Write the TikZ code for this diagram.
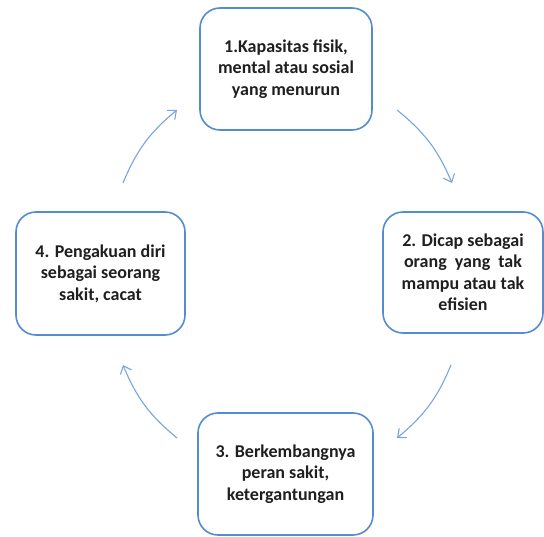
\documentclass[tikz,border=0pt]{standalone}
\usepackage{fontspec}
\setmainfont{Carlito}
\usetikzlibrary{arrows.meta,positioning}
\definecolor{boxblue}{RGB}{84,140,210}
\definecolor{arrowblue}{RGB}{120,165,222}
\tikzset{
  stagebox/.style={draw=boxblue, line width=1.6pt, rounded corners=20pt, fill=white,
    align=center, font=\fontsize{18}{21.5}\selectfont\bfseries, text=black!88, inner sep=0pt},
  cyclearrow/.style={draw=arrowblue, line width=1.1pt, -{Straight Barb[length=7pt,width=12pt,line width=1.1pt]}}
}
\begin{document}
\begin{tikzpicture}[x=1pt,y=-1pt]
\useasboundingbox (0,0) rectangle (544,537);
\node[stagebox, minimum width=172pt, minimum height=122pt] (b1) at (286,69)
  {1.Kapasitas fisik,\\mental atau sosial\\yang menurun};
\node[stagebox, minimum width=160pt, minimum height=121pt] (b2) at (463,272.5)
  {2. Dicap sebagai\\orang\ \ yang\ \ tak\\mampu atau tak\\efisien};
\node[stagebox, minimum width=175pt, minimum height=122pt] (b3) at (285.5,474)
  {3. Berkembangnya\\peran sakit,\\ketergantungan};
\node[stagebox, minimum width=169pt, minimum height=123pt] (b4) at (100.5,273.5)
  {4. Pengakuan diri\\sebagai seorang\\sakit, cacat};
\coordinate (a1s) at (397,110);
\coordinate (a1e) at (452,183);
\coordinate (a2s) at (451,365);
\coordinate (a2e) at (397,438);
\coordinate (a3s) at (177,438);
\coordinate (a3e) at (123,365);
\coordinate (a4s) at (123,183);
\coordinate (a4e) at (177,110);
\draw[cyclearrow] (a1s) to[bend left=14] (a1e);
\draw[cyclearrow] (a2s) to[bend left=14] (a2e);
\draw[cyclearrow] (a3s) to[bend left=14] (a3e);
\draw[cyclearrow] (a4s) to[bend left=14] (a4e);
\end{tikzpicture}
\end{document}
